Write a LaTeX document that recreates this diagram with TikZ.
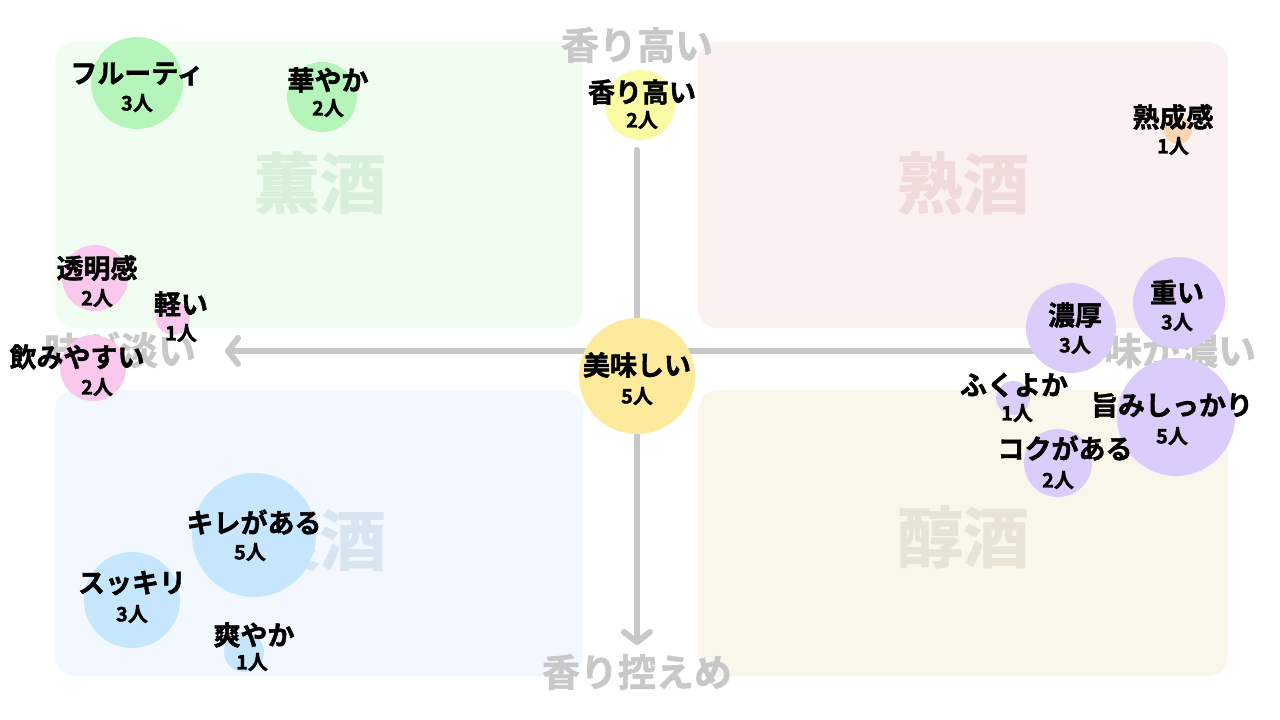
\documentclass[tikz,border=0pt]{standalone}
\usepackage{fontspec}
\setmainfont{Noto Sans CJK JP Bold}[FakeBold=1.5]
\usetikzlibrary{arrows.meta}
\definecolor{qg}{HTML}{F2FDF2}\definecolor{qp}{HTML}{FCF1F1}
\definecolor{qb}{HTML}{F3F8FE}\definecolor{qy}{HTML}{F9F7EC}
\definecolor{lg}{HTML}{D8F0DB}\definecolor{lp}{HTML}{F1DADA}
\definecolor{lb}{HTML}{D8E4F0}\definecolor{ly}{HTML}{E9E3D6}
\definecolor{ax}{HTML}{C8C8C8}
\definecolor{cg}{HTML}{B5F5B9}\definecolor{cy}{HTML}{FBFBA6}
\definecolor{co}{HTML}{F9D5B0}\definecolor{cp}{HTML}{F9C8EC}
\definecolor{cm}{HTML}{FEEA9C}\definecolor{cv}{HTML}{DCCCFC}
\definecolor{cb}{HTML}{C6E6FE}
\tikzset{
 quad/.style={fill=#1,draw=none,rounded corners=20pt},
 qlab/.style={text=#1,font=\fontsize{66}{66}\selectfont},
 axlab/.style={text=ax,font=\fontsize{38}{38}\selectfont},
 bub/.style={fill=#1,draw=none},
 tl/.style={font=\fontsize{27}{27}\selectfont,inner sep=0pt},
 cl/.style={font=\fontsize{20}{20}\selectfont,inner sep=0pt},
 axis/.style={draw=ax,line width=6pt,line cap=round},
 tip/.style={-{Straight Barb[length=10pt,width=26pt,line width=6pt,round]}}
}
\begin{document}
\begin{tikzpicture}[x=1pt,y=-1pt]
\useasboundingbox[fill=white] (0,0) rectangle (1280,720);
\fill[quad=qg] (55,42) rectangle (583,328);
\fill[quad=qp] (698,42) rectangle (1228,328);
\fill[quad=qb] (55,390) rectangle (583,676);
\fill[quad=qy] (698,390) rectangle (1228,676);
\node[qlab=lg] (q1) at (320,183) {薫酒};
\node[qlab=lp] (q2) at (963,183) {熟酒};
\node[qlab=lb] (q3) at (320,540) {爽酒};
\node[qlab=ly] (q4) at (963,537) {醇酒};
\coordinate (vt) at (637,150); \coordinate (vb) at (637,645);
\coordinate (hl) at (225,351); \coordinate (hr) at (1045,351);
\draw[axis,tip] (vt) -- (vb);
\draw[axis,tip] (hr) -- (hl);
\node[axlab] (at) at (637,45) {香り高い};
\node[axlab] (ab) at (637,672) {香り控えめ};
\node[axlab] (al) at (120,350) {味が淡い};
\node[axlab] (ar) at (1180,350) {味が濃い};
% bubbles
\fill[bub=cg] (137,83) circle (46);
\fill[bub=cg] (322,97) circle (35);
\fill[bub=cy] (640,105) circle (35);
\fill[bub=co] (1178,130) circle (14);
\fill[bub=cp] (95,278) circle (33);
\fill[bub=cp] (173,318) circle (17);
\fill[bub=cp] (93,368) circle (33);
\fill[bub=cm] (637,376) circle (58);
\fill[bub=cv] (1071,328) circle (45);
\fill[bub=cv] (1179,303) circle (46);
\fill[bub=cv] (1013,398) circle (17);
\fill[bub=cv] (1176,417) circle (59);
\fill[bub=cv] (1058,463) circle (34);
\fill[bub=cb] (254,535) circle (62);
\fill[bub=cb] (132,600) circle (48);
\fill[bub=cb] (244,652) circle (20);
% labels
\node[tl] (t1) at (137,74) {フルーティ}; \node[cl] (n1) at (137,103) {3人};
\node[tl] (t2) at (328,80) {華やか}; \node[cl] (n2) at (328,108) {2人};
\node[tl] (t3) at (642,92) {香り高い}; \node[cl] (n3) at (642,120) {2人};
\node[tl] (t4) at (1173,117) {熟成感}; \node[cl] (n4) at (1173,146) {1人};
\node[tl] (t5) at (97,268) {透明感}; \node[cl] (n5) at (97,298) {2人};
\node[tl] (t6) at (181,304) {軽い}; \node[cl] (n6) at (181,333) {1人};
\node[tl] (t7) at (77,357) {飲みやすい}; \node[cl] (n7) at (97,387) {2人};
\node[tl] (t8) at (637,365) {美味しい}; \node[cl] (n8) at (637,396) {5人};
\node[tl] (t9) at (1075,315) {濃厚}; \node[cl] (n9) at (1075,345) {3人};
\node[tl] (t10) at (1177,292) {重い}; \node[cl] (n10) at (1177,322) {3人};
\node[tl] (t11) at (1014,385) {ふくよか}; \node[cl] (n11) at (1017,413) {1人};
\node[tl] (t12) at (1172,405) {旨みしっかり}; \node[cl] (n12) at (1172,436) {5人};
\node[tl] (t13) at (1065,448) {コクがある}; \node[cl] (n13) at (1058,480) {2人};
\node[tl] (t14) at (254,522) {キレがある}; \node[cl] (n14) at (250,552) {5人};
\node[tl] (t15) at (132,583) {スッキリ}; \node[cl] (n15) at (132,614) {3人};
\node[tl] (t16) at (254,635) {爽やか}; \node[cl] (n16) at (252,662) {1人};
\end{tikzpicture}
\end{document}
